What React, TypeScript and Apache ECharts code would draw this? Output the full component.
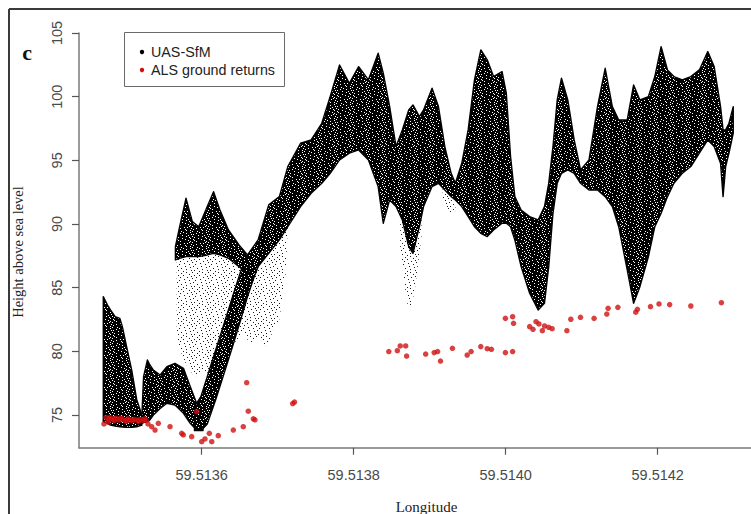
import { useEffect, useRef } from "react";
import * as echarts from "echarts";

// [longitude, upper height, lower height] outlines of the UAS-SfM point cloud
type Band = [number, number, number][];

const blockBand: Band = [
  [59.5134705, 84.3, 74.48], [59.5134761, 83.64, 74.35], [59.51348, 83.25, 74.21],
  [59.5134861, 82.72, 74.14], [59.5134923, 82.59, 74.08], [59.5134956, 81.94, 74.05],
  [59.5135012, 80.37, 74.03], [59.5135079, 78.53, 74.03], [59.5135146, 76.18, 74.08],
  [59.5135213, 75.0, 74.2],
];

const dipBand: Band = [
  [59.5135213, 75.0, 74.35], [59.5135235, 78.01, 74.4], [59.5135286, 79.32, 74.48],
  [59.5135319, 78.93, 74.61], [59.5135364, 78.53, 75.0], [59.5135453, 78.14, 75.52],
  [59.5135542, 78.8, 75.92], [59.5135648, 79.06, 75.79], [59.513576, 78.67, 75.13],
  [59.5135849, 77.23, 74.35], [59.5135933, 75.92, 73.82], [59.5136017, 75.13, 73.77],
];

const riseBand: Band = [
  [59.5135905, 75.65, 73.77], [59.5135989, 76.44, 73.77], [59.5136073, 78.01, 74.3],
  [59.5136184, 80.11, 76.2], [59.5136296, 82.2, 78.3], [59.5136407, 84.3, 80.4],
  [59.5136519, 86.39, 82.6], [59.5136603, 87.18, 84.3], [59.5136687, 87.31, 85.8],
  [59.5136742, 87.4, 86.65],
];

const mainBand: Band = [
  [59.5135654, 88.22, 87.18], [59.513571, 89.79, 87.31], [59.5135793, 92.02, 87.44],
  [59.5135877, 90.19, 87.44], [59.5135961, 89.79, 87.44], [59.5136073, 91.37, 87.57],
  [59.5136156, 92.54, 87.7], [59.513624, 91.1, 87.57], [59.5136352, 89.53, 87.31],
  [59.5136491, 88.35, 86.65], [59.5136603, 87.57, 86.13], [59.5136742, 88.75, 86.65],
  [59.5136882, 91.5, 87.7], [59.5137022, 92.15, 88.75], [59.5137133, 94.51, 89.79],
  [59.5137301, 96.34, 91.37], [59.513744, 96.6, 92.41], [59.513758, 97.91, 93.2],
  [59.5137691, 100.01, 93.98], [59.5137814, 102.49, 95.03], [59.5137943, 101.05, 95.56],
  [59.5138065, 102.36, 95.82], [59.5138194, 101.32, 95.03], [59.5138322, 103.41, 92.94],
  [59.5138389, 101.84, 90.06], [59.5138473, 99.22, 91.89], [59.5138557, 96.08, 91.37],
  [59.513864, 97.39, 90.32], [59.5138724, 98.96, 88.22], [59.513878, 99.35, 87.7],
  [59.5138864, 98.44, 89.79], [59.5138919, 98.96, 91.37], [59.5139031, 100.66, 92.94],
  [59.5139115, 99.22, 93.2], [59.5139199, 96.08, 92.67], [59.5139282, 93.98, 92.15],
  [59.5139338, 93.2, 91.89], [59.5139422, 94.77, 91.37], [59.5139506, 97.39, 90.58],
  [59.5139589, 101.32, 89.79], [59.5139673, 103.67, 89.27], [59.5139757, 102.89, 89.01],
  [59.513984, 101.58, 89.53], [59.5139952, 101.97, 90.06], [59.5140008, 100.27, 90.06],
  [59.5140064, 95.29, 89.79], [59.514012, 92.15, 88.75], [59.5140203, 91.1, 86.65],
  [59.5140315, 90.58, 84.56], [59.5140427, 90.32, 83.25], [59.514051, 91.37, 83.77],
  [59.5140566, 93.2, 86.65], [59.5140622, 96.08, 90.84], [59.5140678, 99.74, 93.2],
  [59.5140734, 101.45, 93.98], [59.5140817, 99.74, 94.25], [59.5140901, 96.6, 93.98],
  [59.5140985, 94.25, 93.2], [59.5141096, 95.03, 92.67], [59.5141208, 99.22, 92.67],
  [59.5141309, 102.23, 92.15], [59.5141403, 99.22, 91.37], [59.5141487, 98.17, 89.79],
  [59.5141599, 98.17, 86.39], [59.5141683, 100.92, 83.77], [59.5141766, 99.74, 85.08],
  [59.5141878, 100.01, 87.44], [59.5141962, 101.58, 89.79], [59.5142045, 103.93, 90.84],
  [59.5142129, 102.1, 92.15], [59.5142213, 101.58, 93.2], [59.5142324, 101.32, 93.98],
  [59.5142436, 101.58, 94.51], [59.5142548, 102.1, 95.56], [59.5142659, 103.54, 96.6],
  [59.5142743, 102.36, 96.08], [59.5142827, 99.22, 94.77], [59.514286, 97.39, 92.15],
  [59.5142894, 97.39, 94.51], [59.5142938, 97.91, 95.56], [59.5142994, 99.22, 97.13],
];

// thinly scattered returns hanging below the dense cloud
const sparseLeft: Band = [
  [59.5135671, 87.18, 81.5], [59.513571, 87.31, 80.2], [59.513575, 87.4, 79.6],
  [59.5135793, 87.44, 79.0], [59.513585, 87.44, 78.5], [59.5135905, 87.44, 78.0],
  [59.513599, 87.5, 78.4], [59.5136073, 87.57, 78.3], [59.513624, 87.57, 79.5],
  [59.5136407, 87.31, 80.5], [59.513655, 86.5, 81.5], [59.5136631, 86.39, 80.6],
  [59.513675, 86.7, 81.2], [59.5136854, 87.44, 80.3], [59.513695, 88.2, 81.8],
  [59.5137022, 88.75, 82.5], [59.5137105, 89.53, 86.1], [59.5137133, 89.79, 89.79],
];
const sparseMid: Band = [
  [59.5138612, 91.0, 88.0], [59.5138696, 89.5, 84.0], [59.5138741, 88.5, 82.9],
  [59.5138808, 88.5, 85.0], [59.5138892, 90.5, 89.0],
];
const sparseNeck: Band = [
  [59.5139171, 92.8, 92.0], [59.5139254, 92.3, 90.8], [59.5139338, 91.9, 91.0],
];

// ALS ground returns [longitude, height]
const alsPoints: [number, number][] = [
  [59.5134714, 74.3], [59.5134741, 74.8], [59.5134767, 74.45], [59.513478, 74.6],
  [59.5134793, 74.8], [59.5134833, 74.7], [59.513485, 74.55], [59.5134872, 74.75],
  [59.5134912, 74.6], [59.513493, 74.75], [59.5134951, 74.7], [59.5134991, 74.55],
  [59.513501, 74.5], [59.513503, 74.7], [59.513507, 74.6], [59.513509, 74.55],
  [59.5135109, 74.65], [59.5135149, 74.6], [59.513517, 74.5], [59.5135188, 74.65],
  [59.5135228, 74.55], [59.513525, 74.7], [59.5135267, 74.6], [59.5135293, 74.3],
  [59.5135342, 74.08], [59.5135386, 73.82], [59.5135429, 74.35], [59.5135583, 74.08],
  [59.5135737, 73.56], [59.5135758, 73.43], [59.5135868, 73.3], [59.5135934, 75.26],
  [59.5136, 72.9], [59.5136043, 73.12], [59.51361, 73.56], [59.5136132, 72.9],
  [59.5136218, 73.38], [59.5136416, 73.82], [59.5136547, 74.08], [59.5136613, 75.3],
  [59.5136679, 74.7], [59.5136701, 74.62], [59.5136592, 77.54], [59.5137197, 75.9],
  [59.5137221, 76.02],
  [59.5138462, 79.98], [59.5138574, 80.05], [59.5138612, 80.42], [59.5138684, 80.42],
  [59.5138696, 79.63], [59.5138947, 79.79], [59.5139059, 79.9], [59.5139104, 79.98],
  [59.5139142, 79.24], [59.5139299, 80.24], [59.5139493, 79.71], [59.5139545, 79.98],
  [59.5139672, 80.37], [59.5139757, 80.21], [59.5139812, 80.16], [59.5139996, 79.9],
  [59.5140091, 79.98],
  [59.5139996, 82.59], [59.5140091, 82.72], [59.5140103, 82.2], [59.5140315, 81.94],
  [59.5140359, 81.73], [59.5140399, 82.33], [59.5140437, 82.15], [59.5140482, 81.62],
  [59.5140511, 81.99], [59.5140566, 81.89], [59.5140611, 81.78], [59.5140805, 81.62],
  [59.5140857, 82.52], [59.5140984, 82.67], [59.5141163, 82.59], [59.514133, 82.93],
  [59.5141347, 83.38], [59.5141476, 83.46], [59.5141711, 83.07], [59.5141733, 83.3],
  [59.5141905, 83.51], [59.5142017, 83.72], [59.5142157, 83.67], [59.5142436, 83.56],
  [59.5142838, 83.82],
];

const lonTicks = [59.5136, 59.5138, 59.514, 59.5142];
const heightTicks = [75, 80, 85, 90, 95, 100, 105];

const SANS = "'Liberation Sans', Arial, sans-serif";
const SERIF = "'Liberation Serif', 'Times New Roman', serif";

// stipple tiles: '1' marks an inked pixel
const denseTile = [
  "1101111111110111",
  "1111011111111101",
  "0111111111111011",
  "1111111101101111",
  "1111011111111110",
  "1011111110111111",
  "1111111111011101",
  "0111101111111111",
  "1111111011111101",
  "1111011111011111",
  "1011111111111110",
  "1111110111110111",
  "0111111111011111",
  "1101111111111011",
  "1111110111111101",
  "1011111110111111",
];
const sparseTile = [
  "1000000000100000",
  "0000010000000000",
  "0000000000000100",
  "0010000100000000",
  "0000000000000001",
  "0000100000010000",
  "1000000000000000",
  "0000000010000000",
  "0001000000000100",
  "0000000000000000",
  "0100000001000000",
  "0000000000000010",
  "0000010000000000",
  "0000000000100000",
  "0010000000000001",
  "0000000100000000",
];

function makeTile(rows: string[], ink: string, paper: string | null) {
  const c = document.createElement("canvas");
  const w = rows[0].length;
  const h = rows.length;
  c.width = w;
  c.height = h;
  const ctx = c.getContext("2d")!;
  if (paper) {
    ctx.fillStyle = paper;
    ctx.fillRect(0, 0, w, h);
  }
  ctx.fillStyle = ink;
  rows.forEach((r, y) => {
    for (let x = 0; x < w; x++) if (r[x] === "1") ctx.fillRect(x, y, 1, 1);
  });
  return { image: c, repeat: "repeat", imageWidth: w, imageHeight: h };
}

function bandSeries(band: Band, fill: any, stroke: string | null, z: number) {
  return {
    type: "custom",
    name: "UAS-SfM",
    z,
    silent: true,
    clip: false,
    data: band.map(([x, top, base]) => [x, base, top]),
    encode: { x: 0, y: [1, 2] },
    renderItem: (params: any, api: any) => {
      if (params.dataIndex !== 0) return null;
      const upper = band.map(([x, top]) => api.coord([x, top]));
      const lower = band.map(([x, , base]) => api.coord([x, base])).reverse();
      return {
        type: "polygon",
        shape: { points: upper.concat(lower) },
        style: {
          fill,
          stroke: stroke || "none",
          lineWidth: stroke ? 1.4 : 0,
          lineJoin: "round",
        },
      };
    },
  };
}

export default function App() {
  const ref = useRef<HTMLDivElement>(null);

  useEffect(() => {
    if (!ref.current) return;
    const chart = echarts.init(ref.current, null, { renderer: "svg" });
    const dense = makeTile(denseTile, "#000", "#fff");
    const sparse = makeTile(sparseTile, "#1a1a1a", null);

    chart.setOption({
      animation: false,
      backgroundColor: "#fff",
      grid: { left: 79, right: 0, top: 33, bottom: 66.3, containLabel: false },
      xAxis: {
        type: "value",
        min: 59.51343855,
        max: 59.51432276,
        axisLine: { show: true, lineStyle: { color: "#7a7a7a", width: 1.5 } },
        axisTick: {
          show: true,
          length: 7,
          inside: false,
          customValues: lonTicks,
          lineStyle: { color: "#555", width: 1.2 },
        },
        axisLabel: {
          customValues: lonTicks,
          formatter: (v: number) => v.toFixed(4),
          color: "#4a4a4a",
          fontFamily: SANS,
          fontSize: 14.5,
          margin: 20,
        },
        splitLine: { show: false },
      },
      yAxis: {
        type: "value",
        min: 72.432,
        max: 105,
        axisLine: { show: true, lineStyle: { color: "#7a7a7a", width: 1.5 } },
        axisTick: {
          show: true,
          length: 7,
          inside: false,
          customValues: heightTicks,
          lineStyle: { color: "#555", width: 1.2 },
        },
        axisLabel: {
          customValues: heightTicks,
          rotate: 90,
          color: "#4a4a4a",
          fontFamily: SANS,
          fontSize: 14.5,
          margin: 15,
        },
        splitLine: { show: false },
      },
      series: [
        bandSeries(sparseLeft, sparse, null, 1),
        bandSeries(sparseMid, sparse, null, 1),
        bandSeries(sparseNeck, sparse, null, 1),
        bandSeries(blockBand, dense, "#000", 2),
        bandSeries(dipBand, dense, "#000", 2),
        bandSeries(riseBand, dense, "#000", 2),
        bandSeries(mainBand, dense, "#000", 2),
        {
          type: "scatter",
          name: "ALS ground returns",
          z: 5,
          symbol: "circle",
          symbolSize: 5.5,
          itemStyle: { color: "#d01010" },
          data: alsPoints,
        },
      ],
      graphic: [
        {
          type: "line",
          shape: { x1: 9, y1: 9, x2: 751, y2: 9 },
          style: { stroke: "#3a3a3a", lineWidth: 2 },
        },
        {
          type: "line",
          shape: { x1: 9, y1: 9, x2: 9, y2: 514 },
          style: { stroke: "#3a3a3a", lineWidth: 2 },
        },
        {
          type: "text",
          x: 27,
          y: 52,
          style: {
            text: "c",
            fontFamily: SERIF,
            fontSize: 22,
            fontWeight: "bold",
            fill: "#111",
            align: "center",
            verticalAlign: "middle",
          },
        },
        {
          type: "rect",
          shape: { x: 124.5, y: 32.5, width: 160, height: 54 },
          style: { fill: "#fff", stroke: "#6a6a6a", lineWidth: 1 },
        },
        {
          type: "circle",
          shape: { cx: 142, cy: 52, r: 2.2 },
          style: { fill: "#000" },
        },
        {
          type: "circle",
          shape: { cx: 142, cy: 70, r: 2.2 },
          style: { fill: "#d01010" },
        },
        {
          type: "text",
          x: 151,
          y: 52,
          style: {
            text: "UAS-SfM",
            fontFamily: SANS,
            fontSize: 14.3,
            fill: "#222",
            verticalAlign: "middle",
          },
        },
        {
          type: "text",
          x: 151,
          y: 70,
          style: {
            text: "ALS ground returns",
            fontFamily: SANS,
            fontSize: 14.3,
            fill: "#222",
            verticalAlign: "middle",
          },
        },
        {
          type: "text",
          x: 426.5,
          y: 507,
          style: {
            text: "Longitude",
            fontFamily: SERIF,
            fontSize: 15,
            fill: "#222",
            align: "center",
            verticalAlign: "middle",
          },
        },
        {
          type: "text",
          x: 18,
          y: 252,
          rotation: Math.PI / 2,
          style: {
            text: "Height above sea level",
            fontFamily: SERIF,
            fontSize: 14.5,
            fill: "#222",
            align: "center",
            verticalAlign: "middle",
          },
        },
      ],
    });
    return () => chart.dispose();
  }, []);

  return (
    <div
      ref={ref}
      style={{ position: "absolute", left: 0, top: 0, width: 751, height: 514, background: "#fff" }}
    />
  );
}
